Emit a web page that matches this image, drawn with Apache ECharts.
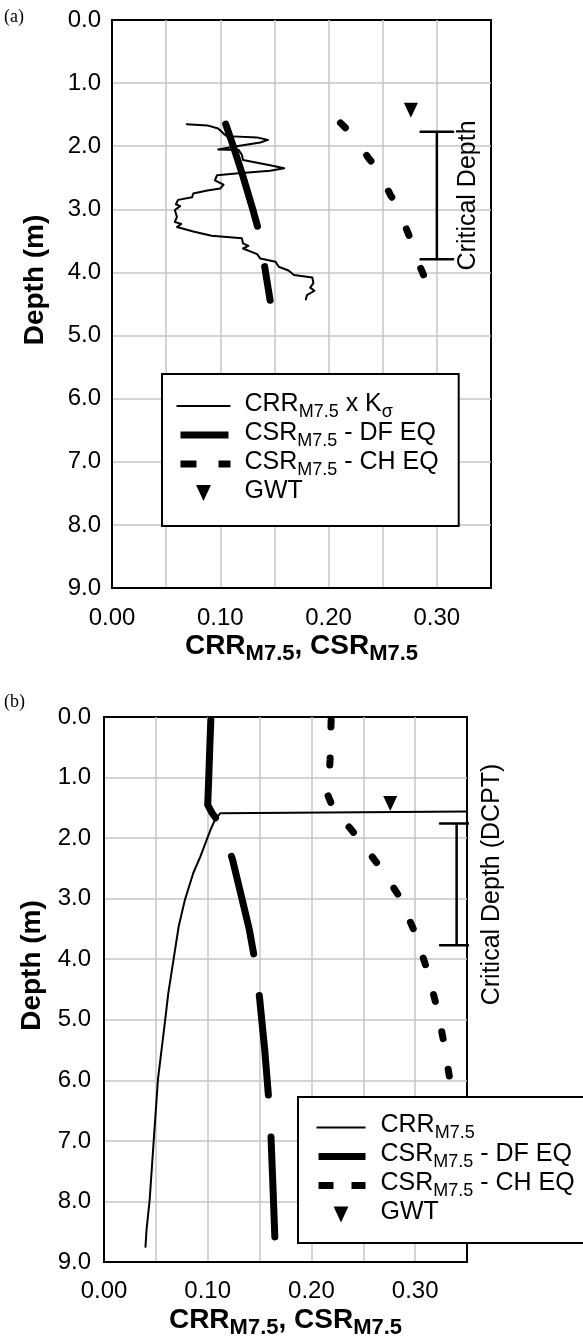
<!DOCTYPE html>
<html>
<head>
<meta charset="utf-8">
<script src="https://cdn.jsdelivr.net/npm/echarts@6/dist/echarts.min.js"></script>
<style>
html,body{margin:0;padding:0;background:#ffffff;}
#c{width:583px;height:1343px;}
</style>
</head>
<body>
<div id="c"></div>
<script>
// ---------- tick labels ----------
const xTickLabels = ['0.00', '0.10', '0.20', '0.30'];
const yTickLabels = ['0.0', '1.0', '2.0', '3.0', '4.0', '5.0', '6.0', '7.0', '8.0', '9.0'];

// ---------- panel (a) ----------
const aCrrDepth = [1.65, 1.67, 1.72, 1.80, 1.84, 1.86, 1.90, 1.94, 2.01, 2.05, 2.06, 2.14, 2.22, 2.30, 2.35, 2.39, 2.43, 2.46, 2.54, 2.61, 2.67, 2.70, 2.75, 2.81, 2.85, 2.92, 2.95, 3.01, 3.12, 3.20, 3.23, 3.28, 3.35, 3.42, 3.46, 3.54, 3.58, 3.62, 3.71, 3.78, 3.83, 3.91, 3.97, 4.04, 4.08, 4.17, 4.24, 4.29, 4.36, 4.43];
const aCrrValue = [0.069, 0.088, 0.098, 0.103, 0.106, 0.134, 0.144, 0.137, 0.112, 0.098, 0.117, 0.120, 0.121, 0.146, 0.159, 0.146, 0.117, 0.097, 0.095, 0.103, 0.100, 0.088, 0.075, 0.074, 0.061, 0.059, 0.063, 0.058, 0.060, 0.058, 0.064, 0.060, 0.075, 0.092, 0.120, 0.121, 0.126, 0.121, 0.134, 0.137, 0.151, 0.154, 0.163, 0.168, 0.185, 0.186, 0.183, 0.187, 0.180, 0.179];
const aDfDepth = [1.65, 2.00, 2.48, 3.00, 3.37, 3.91, 4.44];
const aDfValue = [0.105, 0.112, 0.121, 0.130, 0.136, 0.141, 0.146];
const aChDepth = [1.63, 1.82, 2.19, 2.38, 2.77, 2.96, 3.36, 3.53, 3.93, 4.09];
const aChValue = [0.211, 0.222, 0.237, 0.246, 0.257, 0.264, 0.273, 0.277, 0.285, 0.289];
const aGwtDepth = [1.43];
const aGwtValue = [0.276];
const aCritDepth = [1.77, 3.79];
const aCritValue = [0.300];
const aCritCap = [0.285, 0.315];

// ---------- panel (b) ----------
const bCrrDepth = [1.56, 1.59, 1.70, 1.85, 2.03, 2.30, 2.58, 3.02, 3.46, 4.01, 4.56, 5.00, 5.99, 6.98, 7.98, 8.47, 8.75];
const bCrrValue = [0.350, 0.112, 0.107, 0.103, 0.099, 0.093, 0.086, 0.078, 0.072, 0.067, 0.062, 0.059, 0.052, 0.048, 0.044, 0.041, 0.040];
const bDfDepth = [0.05, 0.50, 1.00, 1.45, 1.58, 1.70, 1.85, 2.36, 3.00, 3.50, 4.07, 4.64, 5.50, 6.35, 6.93, 7.80, 8.72];
const bDfValue = [0.103, 0.102, 0.101, 0.100, 0.104, 0.109, 0.114, 0.124, 0.133, 0.140, 0.146, 0.150, 0.155, 0.159, 0.161, 0.163, 0.165];
const bChDepth = [0.05, 0.70, 1.30, 1.55, 1.85, 2.43, 2.97, 3.57, 4.20, 4.80, 5.40, 6.05];
const bChValue = [0.219, 0.218, 0.216, 0.222, 0.238, 0.264, 0.285, 0.300, 0.312, 0.321, 0.328, 0.334];
const bGwtDepth = [1.43];
const bGwtValue = [0.276];
const bCritDepth = [1.76, 3.77];
const bCritValue = [0.340];
const bCritCap = [0.324, 0.356];

// ---------- helpers ----------
const FONT = '"Liberation Sans", Arial, Helvetica, sans-serif';
const GWT_ICON = 'path://M0,0 L13,0 L6.5,14 Z';
function pairs(xs, ds) { return xs.map((x, i) => [x, ds[i]]); }
function tickFmt(labels) {
  return function (v) {
    const hit = labels.find(l => Math.abs(parseFloat(l) - v) < 1e-6);
    return hit === undefined ? '' : hit;
  };
}
function bracket(x, cap, d) {
  return [[cap[0], d[0]], [cap[1], d[0]], [x, d[0]], [x, d[1]], [cap[0], d[1]], [cap[1], d[1]]];
}

const nameRich = {
  t: { fontSize: 28, fontWeight: 'bold', fontFamily: FONT, color: '#000', lineHeight: 32, verticalAlign: 'bottom', padding: [0, 0, 5, 0] },
  s: { fontSize: 22, fontWeight: 'bold', fontFamily: FONT, color: '#000', lineHeight: 26, verticalAlign: 'bottom' }
};

function xAxisCfg(gi, margin, gap) {
  return {
    type: 'value', gridIndex: gi, min: 0, max: 0.35, interval: 0.05,
    axisLine: { show: true, onZero: false, lineStyle: { color: '#000', width: 2 } },
    axisTick: { show: false },
    axisLabel: { formatter: tickFmt(xTickLabels), color: '#000', fontSize: 24, fontFamily: FONT, margin: margin, hideOverlap: false },
    splitLine: { show: true, showMinLine: false, showMaxLine: false, lineStyle: { color: '#c6c6c6', width: 1.5 } },
    name: '{t|CRR}{s|M7.5}{t|, CSR}{s|M7.5}',
    nameLocation: 'middle', nameGap: gap,
    nameTextStyle: { color: '#000', rich: nameRich }
  };
}
function yAxisCfg(gi, margin, gap) {
  return {
    type: 'value', gridIndex: gi, min: 0, max: 9, interval: 1, inverse: true,
    axisLine: { show: true, onZero: false, lineStyle: { color: '#000', width: 2 } },
    axisTick: { show: false },
    axisLabel: { formatter: tickFmt(yTickLabels), color: '#000', fontSize: 24, fontFamily: FONT, margin: margin, hideOverlap: false },
    splitLine: { show: true, showMinLine: false, showMaxLine: false, lineStyle: { color: '#c6c6c6', width: 1.5 } },
    name: 'Depth (m)', nameLocation: 'middle', nameGap: gap, nameRotate: 90,
    nameTextStyle: { color: '#000', fontSize: 28, fontWeight: 'bold', fontFamily: FONT, padding: [0, 0, 0, 48] }
  };
}

const N_CRRK = 'CRR x Kσ';
const N_CRR = 'CRR';
const N_DF = 'CSR - DF EQ';
const N_CH = 'CSR - CH EQ';
const N_GWT = 'GWT';
const legendLabels = {};
legendLabels[N_CRRK] = '{g| }{m|CRR}{s|M7.5}{m| x K}{s|σ}';
legendLabels[N_CRR] = '{g| }{m|CRR}{s|M7.5}';
legendLabels[N_DF] = '{g| }{m|CSR}{s|M7.5}{m| - DF EQ}';
legendLabels[N_CH] = '{g| }{m|CSR}{s|M7.5}{m| - CH EQ}';
legendLabels[N_GWT] = '{g| }{m|GWT}';

function legendRich(spacer, lh) {
  return {
    g: { width: spacer, fontSize: 25, fontFamily: FONT, lineHeight: lh },
    m: { fontSize: 25, fontFamily: FONT, color: '#000', lineHeight: lh, verticalAlign: 'bottom', padding: [0, 0, 4, 0] },
    s: { fontSize: 18, fontFamily: FONT, color: '#000', lineHeight: 20, verticalAlign: 'bottom' }
  };
}

function lineSeries(name, gi, data, width, type, extra) {
  return Object.assign({
    type: 'line', name: name, xAxisIndex: gi, yAxisIndex: gi, data: data,
    symbol: 'none', showSymbol: false, silent: true, animation: false,
    itemStyle: { color: '#000' },
    lineStyle: { color: '#000', width: width, type: type, cap: 'round', join: 'round' },
    z: 3
  }, extra || {});
}
function gwtSeries(gi, data) {
  return { type: 'scatter', name: N_GWT, xAxisIndex: gi, yAxisIndex: gi, data: data,
    symbol: GWT_ICON, symbolSize: [14, 15], itemStyle: { color: '#000', opacity: 1 },
    silent: true, animation: false, z: 4 };
}
function critLabel(gi, x, d, text, dx) {
  return { type: 'scatter', xAxisIndex: gi, yAxisIndex: gi,
    data: [[x, (d[0] + d[1]) / 2]],
    symbolSize: 1, itemStyle: { color: 'rgba(255,255,255,0)' }, silent: true, animation: false, z: 5,
    label: { show: true, formatter: text, rotate: 90, position: 'inside', offset: [0, dx], color: '#000', opacity: 1,
      textBorderWidth: 0, fontSize: 25, fontFamily: FONT } };
}

const series = [
  // panel (a)
  lineSeries(N_CRRK, 0, pairs(aCrrValue, aCrrDepth), 2, 'solid'),
  lineSeries(N_DF, 0, pairs(aDfValue, aDfDepth), 7, [107, 41]),
  lineSeries(N_CH, 0, pairs(aChValue, aChDepth), 7, [7, 35]),
  gwtSeries(0, pairs(aGwtValue, aGwtDepth)),
  lineSeries(null, 0, bracket(aCritValue[0], aCritCap, aCritDepth), 2.5, 'solid', { clip: false }),
  critLabel(0, aCritValue[0], aCritDepth, 'Critical Depth', 31),
  // panel (b)
  lineSeries(N_CRR, 1, pairs(bCrrValue, bCrrDepth), 2, 'solid'),
  lineSeries(N_DF, 1, pairs(bDfValue, bDfDepth), 7, [100, 42]),
  lineSeries(N_CH, 1, pairs(bChValue, bChDepth), 7, [7, 31]),
  gwtSeries(1, pairs(bGwtValue, bGwtDepth)),
  lineSeries(null, 1, bracket(bCritValue[0], bCritCap, bCritDepth), 2.5, 'solid', { clip: false }),
  critLabel(1, bCritValue[0], bCritDepth, 'Critical Depth (DCPT)', 35)
];

function legendCfg(left, top, padding, iw, spacer, lh, firstName, dfOff, dfDash, chDash, chOff) {
  return {
    left: left, top: top, orient: 'vertical', align: 'left', selectedMode: false,
    padding: padding, borderColor: '#000', borderWidth: 2, backgroundColor: '#ffffff',
    itemWidth: iw, itemHeight: 16, itemGap: 0, z: 10, symbolKeepAspect: true,
    formatter: n => legendLabels[n],
    textStyle: { rich: legendRich(spacer, lh) },
    data: [
      { name: firstName, lineStyle: { width: 2, type: 'solid', cap: 'butt' }, itemStyle: { opacity: 0 } },
      { name: N_DF, lineStyle: { width: 7, type: dfDash, dashOffset: dfOff, cap: 'butt' }, itemStyle: { opacity: 0 } },
      { name: N_CH, lineStyle: { width: 7, type: chDash, dashOffset: chOff, cap: 'butt' }, itemStyle: { opacity: 0 } },
      { name: N_GWT, icon: GWT_ICON, itemStyle: { color: '#000', opacity: 1 } }
    ]
  };
}

const option = {
  backgroundColor: '#ffffff',
  animation: false,
  grid: [
    { left: 112, top: 20, width: 379, height: 568, show: true, borderColor: '#000', borderWidth: 2, backgroundColor: 'rgba(0,0,0,0)' },
    { left: 104, top: 717, width: 363, height: 545, show: true, borderColor: '#000', borderWidth: 2, backgroundColor: 'rgba(0,0,0,0)' }
  ],
  xAxis: [xAxisCfg(0, 18, 45), xAxisCfg(1, 17, 45)],
  yAxis: [yAxisCfg(0, 11, 63), yAxisCfg(1, 13, 57)],
  legend: [
    legendCfg(162, 374, [18, 20, 18, 11], 54, 9, 30, N_CRRK, -4, [48, 100], [16, 22], -4),
    legendCfg(298, 1097, [16, 22, 14, 15], 49, 10, 29, N_CRR, -2, [47, 100], [15, 18], -2)
  ],
  graphic: [
    { type: 'text', left: 4, top: 8, style: { text: '(a)', fontSize: 18, fontFamily: '"Liberation Serif", "Times New Roman", serif', fill: '#000' } },
    { type: 'text', left: 4, top: 693, style: { text: '(b)', fontSize: 18, fontFamily: '"Liberation Serif", "Times New Roman", serif', fill: '#000' } }
  ],
  series: series
};

const chart = echarts.init(document.getElementById('c'), null, { renderer: 'canvas', width: 583, height: 1343 });
chart.setOption(option);
</script>
</body>
</html>
